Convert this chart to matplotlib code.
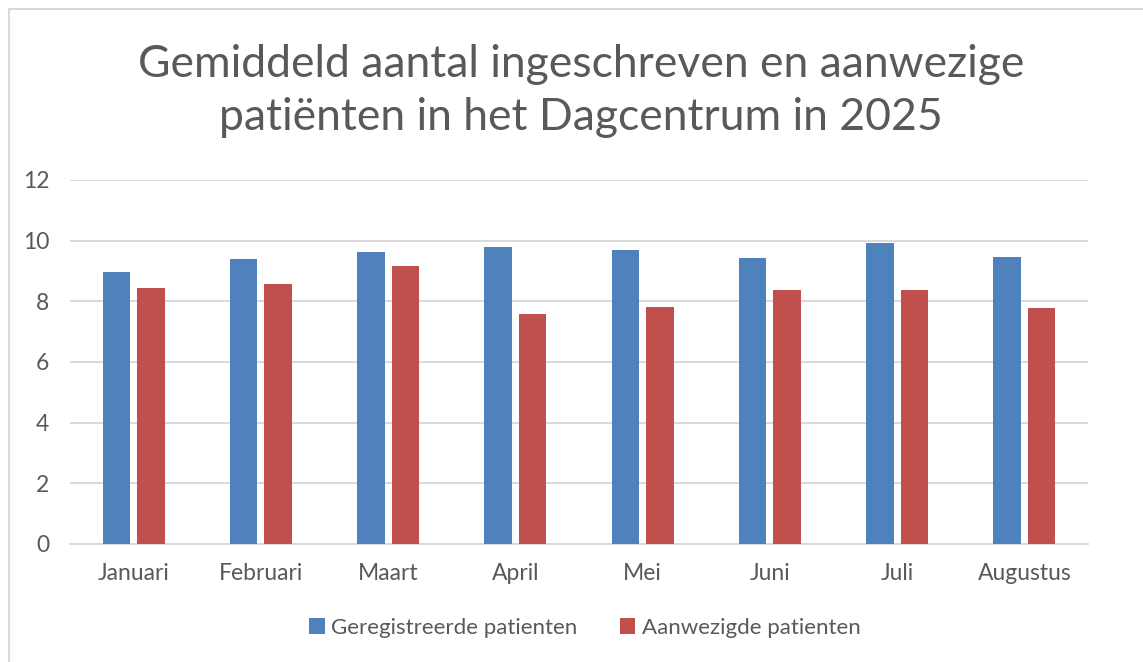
import matplotlib
matplotlib.use("Agg")
import matplotlib.pyplot as plt
from matplotlib.patches import Rectangle, Patch
import numpy as np

months = ["Januari", "Februari", "Maart", "April", "Mei", "Juni", "Juli", "Augustus"]
geregistreerd = [8.96, 9.41, 9.63, 9.78, 9.70, 9.43, 9.93, 9.46]
aanwezig = [8.43, 8.57, 9.16, 7.58, 7.81, 8.37, 8.37, 7.78]
yticks = [0, 2, 4, 6, 8, 10, 12]
title = "Gemiddeld aantal ingeschreven en aanwezige\npatiënten in het Dagcentrum in 2025"
series_names = ["Geregistreerde patienten", "Aanwezigde patienten"]

BLUE = "#4F81BD"
RED = "#C0504D"
GRAY = "#595959"
GRID = "#D9D9D9"

plt.rcParams['font.family'] = ['Lato', 'DejaVu Sans']

W, H = 1143, 662
fig = plt.figure(figsize=(W / 100, H / 100), dpi=100)

# outer chart border (extends past right/bottom edges)
fig.patches.append(Rectangle((9 / W, -0.05), 1.2, 1 - 9 / H + 0.05, transform=fig.transFigure,
                             fill=False, edgecolor=GRID, linewidth=1.5))

ax = fig.add_axes([70 / W, 1 - 544 / H, (1088 - 70) / W, (544 - 180) / H])
x = np.arange(len(months))
bw = 0.216
off = 0.135
ax.bar(x - off, geregistreerd, width=bw, color=BLUE, zorder=3)
ax.bar(x + off, aanwezig, width=bw, color=RED, zorder=3)

ax.set_xlim(-0.5, len(months) - 0.5)
ax.set_ylim(0, 12)
ax.set_yticks(yticks)
ax.set_yticklabels([str(v) for v in yticks])
ax.set_xticks(x)
ax.set_xticklabels(months)
ax.yaxis.grid(True, color=GRID, linewidth=1.4, zorder=0)
ax.set_axisbelow(True)
for s in ["top", "right", "left"]:
    ax.spines[s].set_visible(False)
ax.spines["bottom"].set_color(GRID)
ax.spines["bottom"].set_linewidth(1.4)
ax.tick_params(axis="both", length=0, colors=GRAY, labelsize=16.5)
ax.tick_params(axis="y", pad=15)
ax.tick_params(axis="x", pad=14)

fig.text(581 / W, 1 - 91 / H, title, ha="center", va="center", fontsize=32,
         color=GRAY, linespacing=1.38)

handles = [Patch(facecolor=BLUE), Patch(facecolor=RED)]
fig.legend(handles, series_names, loc="center", bbox_to_anchor=(585 / W, 1 - 628 / H),
           ncol=2, frameon=False, fontsize=16, labelcolor=GRAY,
           handlelength=0.7, handleheight=0.7, handletextpad=0.3, columnspacing=1.9)

fig.savefig("out.png", dpi=100, facecolor="white")
